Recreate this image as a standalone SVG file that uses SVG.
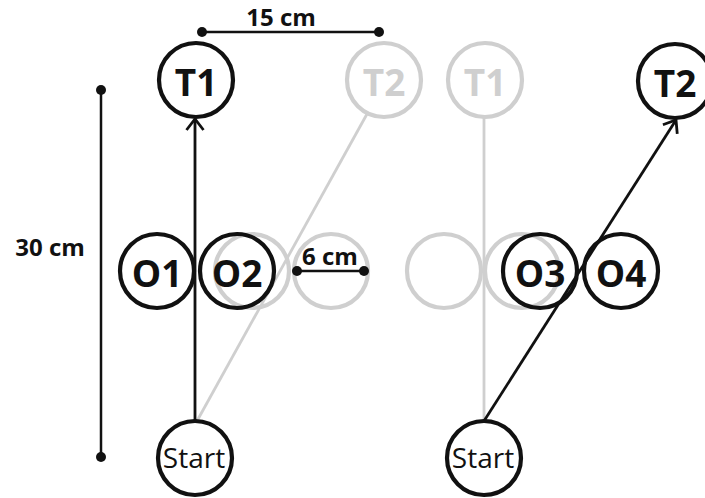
<svg xmlns="http://www.w3.org/2000/svg" width="705" height="498" viewBox="0 0 705 498">
  <style>
    .node { fill: none; stroke-width: 4.2; }
    .on { stroke: #111; }
    .off { stroke: #cfcfcf; }
    .lbl { font-family: "Open Sans", "Liberation Sans", sans-serif; font-weight: bold; font-size: 37px; text-anchor: middle; }
    .lbl.on, .lbl.off { stroke: none; }
    .lbl.on { fill: #111; }
    .lbl.off { fill: #cfcfcf; }
    .start { font-family: "Open Sans", "Liberation Sans", sans-serif; font-size: 28px; text-anchor: middle; fill: #111; }
    .dim { stroke: #111; stroke-width: 2.5; }
    .dot { fill: #111; }
    .dimtxt { font-family: "Open Sans", "Liberation Sans", sans-serif; font-weight: bold; font-size: 24px; text-anchor: middle; fill: #111; }
    .link { fill: none; stroke-width: 2.8; }
  </style>
  <defs>
    <marker id="arrow" viewBox="0 0 14 20" refX="12" refY="10" markerWidth="14" markerHeight="20" markerUnits="userSpaceOnUse" orient="auto">
      <path d="M1,1.5 L12,10 L1,18.5" fill="none" stroke="#111" stroke-width="2.8"/>
    </marker>
  </defs>

  <!-- faded nodes (drawn first, underneath) -->
  <g id="t2-left-faded"><circle class="node off" cx="384" cy="80" r="37"/><text class="lbl off" x="384" y="96">T2</text></g>
  <g id="t1-right-faded"><circle class="node off" cx="485" cy="80" r="37"/><text class="lbl off" x="485" y="96">T1</text></g>
  <g id="obs-left-faded-a"><circle class="node off" cx="252" cy="271" r="37"/></g>
  <g id="obs-left-faded-b"><circle class="node off" cx="331" cy="271" r="37"/></g>
  <g id="obs-right-faded-a"><circle class="node off" cx="444" cy="271" r="37"/></g>
  <g id="obs-right-faded-b"><circle class="node off" cx="522" cy="271" r="37"/></g>

  <!-- connectors -->
  <g id="connectors">
    <line class="link off" x1="197" y1="421" x2="367" y2="114"/>
    <line class="link off" x1="484" y1="421" x2="484" y2="117"/>
    <line class="link on" x1="195" y1="421" x2="195" y2="119" marker-end="url(#arrow)"/>
    <line class="link on" x1="484" y1="421" x2="676" y2="120" marker-end="url(#arrow)"/>
  </g>

  <!-- active nodes -->
  <g id="t1-left"><circle class="node on" cx="196" cy="80" r="37"/><text class="lbl on" x="196" y="96">T1</text></g>
  <g id="t2-right"><circle class="node on" cx="675" cy="81" r="37"/><text class="lbl on" x="675" y="97">T2</text></g>
  <g id="o1"><circle class="node on" cx="157" cy="271" r="37"/><text class="lbl on" x="157" y="287">O1</text></g>
  <g id="o2"><circle class="node on" cx="237" cy="271" r="37"/><text class="lbl on" x="237" y="287">O2</text></g>
  <g id="o3"><circle class="node on" cx="540" cy="271" r="37"/><text class="lbl on" x="540" y="287">O3</text></g>
  <g id="o4"><circle class="node on" cx="621" cy="271" r="37"/><text class="lbl on" x="621" y="287">O4</text></g>
  <g id="start-left"><circle class="node on" cx="195" cy="458" r="37"/><text class="start" x="194" y="468">Start</text></g>
  <g id="start-right"><circle class="node on" cx="484" cy="458" r="37"/><text class="start" x="483" y="468">Start</text></g>

  <!-- dimensions -->
  <g id="dim-15">
    <line class="dim" x1="202" y1="32" x2="379" y2="32"/>
    <circle class="dot" cx="202" cy="32" r="5"/><circle class="dot" cx="379" cy="32" r="5"/>
    <text class="dimtxt" x="281" y="26">15 cm</text>
  </g>
  <g id="dim-30">
    <line class="dim" x1="101" y1="90" x2="101" y2="457"/>
    <circle class="dot" cx="101" cy="90" r="5"/><circle class="dot" cx="101" cy="457" r="5"/>
    <text class="dimtxt" x="50" y="256">30 cm</text>
  </g>
  <g id="dim-6">
    <line class="dim" x1="297" y1="271" x2="364" y2="271"/>
    <circle class="dot" cx="297" cy="271" r="5"/><circle class="dot" cx="364" cy="271" r="5"/>
    <text class="dimtxt" x="330" y="265">6 cm</text>
  </g>
</svg>
